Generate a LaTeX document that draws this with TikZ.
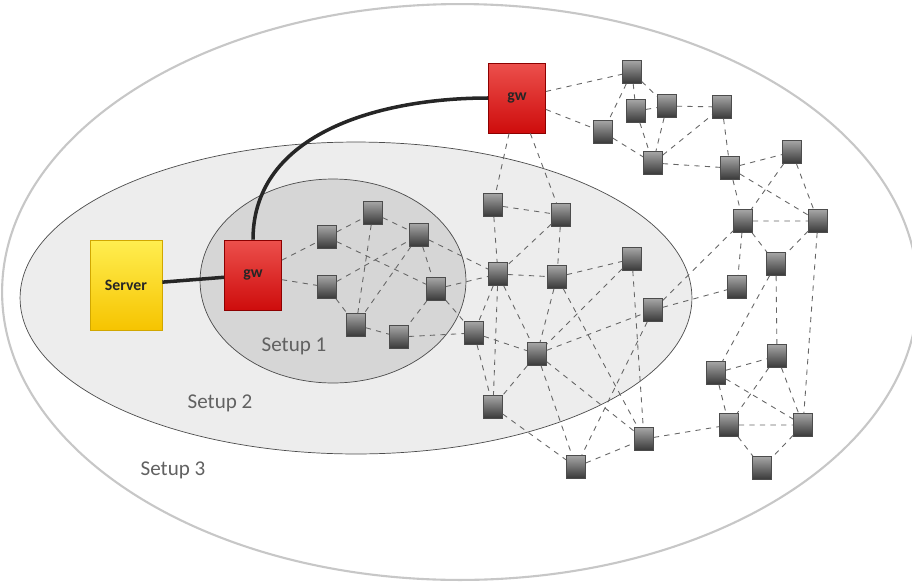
\documentclass[tikz,border=0pt]{standalone}
\usepackage{fontspec}
\setmainfont{Carlito}
\usepackage{tikz}
\usetikzlibrary{shapes.geometric}
\definecolor{gwtop}{RGB}{236,80,76}
\definecolor{gwbot}{RGB}{206,12,12}
\definecolor{srvtop}{RGB}{255,238,80}
\definecolor{srvbot}{RGB}{246,196,0}

\begin{document}
\begin{tikzpicture}[x=0.02cm,y=-0.02cm]
\useasboundingbox (0,0) rectangle (912,585);
\tikzstyle{mote}=[rectangle, draw=black!70, top color=black!35, bottom color=black!78,
    minimum width=0.38cm, minimum height=0.46cm, inner sep=0pt]
\tikzstyle{gwbox}=[rectangle, draw=red!55!black, top color=gwtop, bottom color=gwbot,
    minimum width=1.14cm, minimum height=1.4cm, text=black!85, font=\small\bfseries]
\tikzstyle{serverbox}=[rectangle, draw=srvbot!85!black, top color=srvtop, bottom color=srvbot,
    minimum width=1.44cm, minimum height=1.8cm, text=black!85, font=\small\bfseries]
\tikzstyle{link}=[draw=black!60, dashed, line width=0.5pt]
\tikzstyle{uplink}=[draw=black!85, line width=2pt]
\tikzstyle{setuplabel}=[text=black!62, font=\large]

\draw[draw=black!22, line width=1.2pt, fill=white] (460,292) ellipse [x radius=9.16cm, y radius=5.76cm];
\draw[draw=black!70, fill=black!7] (356,298) ellipse [x radius=6.72cm, y radius=3.12cm];
\draw[draw=black!70, fill=black!16] (333,281) ellipse [x radius=2.66cm, y radius=2.04cm];

\node[setuplabel] (lab1) at (294,346) {Setup 1};
\node[setuplabel] (lab2) at (220,403) {Setup 2};
\node[setuplabel] (lab3) at (173,470) {Setup 3};

\node[serverbox] (server) at (126,285) {Server};
\node[gwbox] (gw1) at (253,275) {gw};
\node[gwbox] (gw2) at (517,98) {gw};

\node[mote] (s1) at (327,237) {};
\node[mote] (s2) at (373,213) {};
\node[mote] (s3) at (419,235) {};
\node[mote] (s4) at (327,287) {};
\node[mote] (s5) at (436,289) {};
\node[mote] (s6) at (356,325) {};
\node[mote] (s7) at (399,337) {};

\node[mote] (m1) at (474,333) {};
\node[mote] (m2) at (493,205) {};
\node[mote] (m3) at (561,215) {};
\node[mote] (m4) at (498,274) {};
\node[mote] (m5) at (557,277) {};
\node[mote] (m6) at (632,259) {};
\node[mote] (m7) at (653,310) {};
\node[mote] (m8) at (537,354) {};
\node[mote] (m9) at (493,407) {};
\node[mote] (m10) at (644,439) {};
\node[mote] (m11) at (576,467) {};

\node[mote] (t1) at (632,72) {};
\node[mote] (t2) at (636,111) {};
\node[mote] (t3) at (667,106) {};
\node[mote] (t4) at (603,132) {};
\node[mote] (t5) at (653,163) {};
\node[mote] (t6) at (722,107) {};
\node[mote] (t7) at (730,168) {};
\node[mote] (t8) at (792,152) {};
\node[mote] (t9) at (743,221) {};
\node[mote] (t10) at (818,221) {};
\node[mote] (t11) at (776,264) {};
\node[mote] (t12) at (737,287) {};

\node[mote] (b1) at (777,356) {};
\node[mote] (b2) at (716,373) {};
\node[mote] (b3) at (729,425) {};
\node[mote] (b4) at (803,425) {};
\node[mote] (b5) at (762,468) {};

\draw[uplink] (server) -- (gw1);
\draw[uplink] (gw1.north) to[out=90,in=180] (gw2.west);

\draw[link] (gw1) -- (s1) (gw1) -- (s4) (s1) -- (s2) (s2) -- (s3) (s1) -- (s5)
    (s2) -- (s6) (s3) -- (s6) (s4) -- (s3) (s3) -- (s5) (s4) -- (s6) (s6) -- (s7)
    (s5) -- (s7) (s7) -- (m1) (s5) -- (m1) (s5) -- (m4) (s3) -- (m4);
\draw[link] (gw2) -- (m2) (gw2) -- (m3) (gw2) -- (t1) (gw2) -- (t4)
    (m2) -- (m3) (m2) -- (m4) (m3) -- (m5) (m3) -- (m4) (m4) -- (m5) (m5) -- (m6)
    (m4) -- (m8) (m4) -- (m9) (m4) -- (m1) (m1) -- (m8) (m1) -- (m9) (m5) -- (m8)
    (m6) -- (m8) (m8) -- (m7) (m8) -- (m9) (m8) -- (m11) (m8) -- (m10) (m5) -- (m10)
    (m6) -- (m10) (m9) -- (m11) (m11) -- (m10) (m7) -- (m11) (m7) -- (t9) (m7) -- (t12)
    (m10) -- (b3);
\draw[link] (t1) -- (t2) (t1) -- (t3) (t1) -- (t4) (t2) -- (t3) (t2) -- (t5) (t3) -- (t5)
    (t3) -- (t6) (t4) -- (t5) (t5) -- (t6) (t5) -- (t7) (t6) -- (t7) (t7) -- (t8)
    (t7) -- (t9) (t7) -- (t10) (t8) -- (t9) (t8) -- (t10) (t9) -- (t10) (t9) -- (t11)
    (t10) -- (t11) (t9) -- (t12) (t11) -- (b1) (t11) -- (b2) (t10) -- (b4);
\draw[link] (b2) -- (b1) (b2) -- (b3) (b2) -- (b4) (b1) -- (b3) (b1) -- (b4)
    (b3) -- (b4) (b3) -- (b5) (b4) -- (b5);
\end{tikzpicture}
\end{document}
